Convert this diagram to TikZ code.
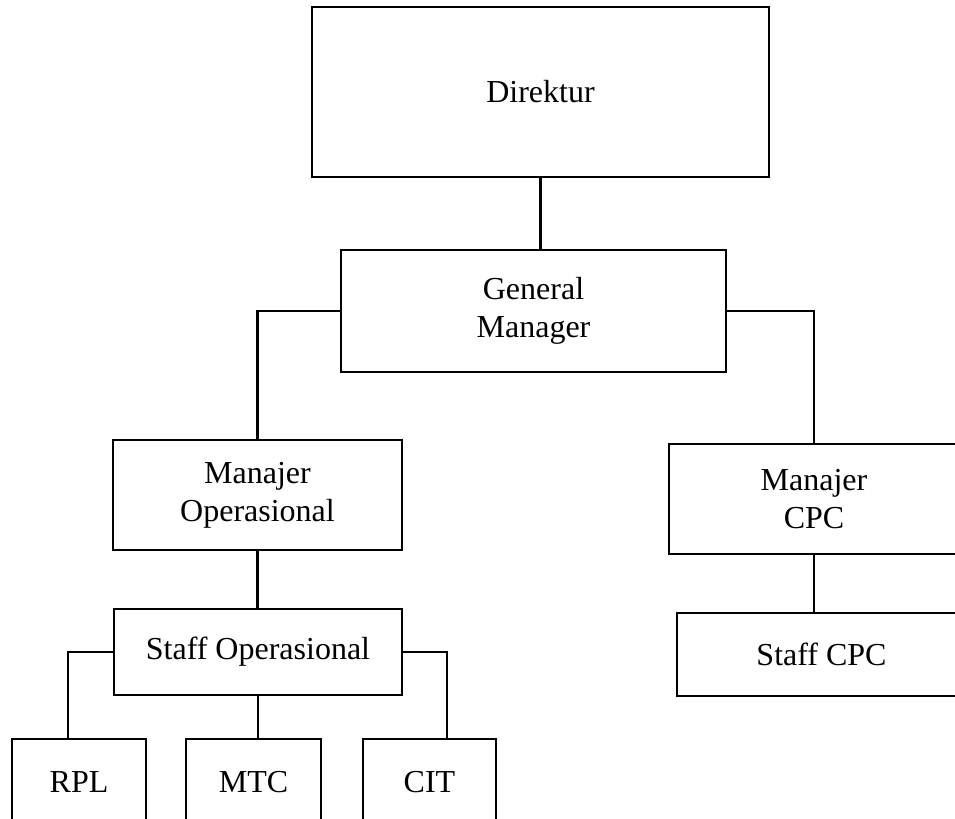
\documentclass[tikz,border=0pt]{standalone}
\usepackage{fontspec}
\setmainfont{Liberation Serif}
\usepackage{tikz}

\begin{document}
\begin{tikzpicture}[
    x=0.75pt, y=-0.75pt,
    post/.style={
        draw,
        line width=1.6pt,
        inner sep=0pt,
        align=center,
        font=\fontsize{24}{28.3}\selectfont
    },
    link/.style={line width=1.6pt}
]

\useasboundingbox (0,0) rectangle (955,818);
\clip (0,0) rectangle (955,818);

\node[post, minimum width=342.75pt, minimum height=127.5pt] (D) at (540.5,92) {Direktur};
\node[post, minimum width=288.75pt, minimum height=91.5pt] (GM) at (533.5,311) {General\\Manager};
\node[post, minimum width=216.75pt, minimum height=82.5pt] (MO) at (257.5,495) {Manajer\\Operasional};
\node[post, minimum width=217.5pt, minimum height=82.5pt] (MCPC) at (814,499) {Manajer\\CPC};
\node[post, minimum width=216pt, minimum height=64.5pt] (SO) at (258,652) {Staff Operasional};
\node[post, minimum width=216.75pt, minimum height=62.25pt] (SCPC) at (821.5,654.5) {Staff CPC};
\node[post, minimum width=100.5pt, minimum height=64.5pt] (RPL) at (79,782) {RPL};
\node[post, minimum width=101.25pt, minimum height=64.5pt] (MTC) at (253.5,782) {MTC};
\node[post, minimum width=99.75pt, minimum height=64.5pt] (CIT) at (429.5,782) {CIT};

\coordinate (rplin) at (68,739);
\coordinate (citin) at (447,739);

\draw[link] (D.south) -- (D.south |- GM.north);
\draw[link] (GM.west) -| (MO.north);
\draw[link] (GM.east) -| (MCPC.north);
\draw[link] (MO.south) -- (MO.south |- SO.north);
\draw[link] (MCPC.south) -- (MCPC.south |- SCPC.north);
\draw[link] (SO.west) -| (rplin);
\draw[link] (SO.south) -- (SO.south |- MTC.north);
\draw[link] (SO.east) -| (citin);

\end{tikzpicture}
\end{document}
